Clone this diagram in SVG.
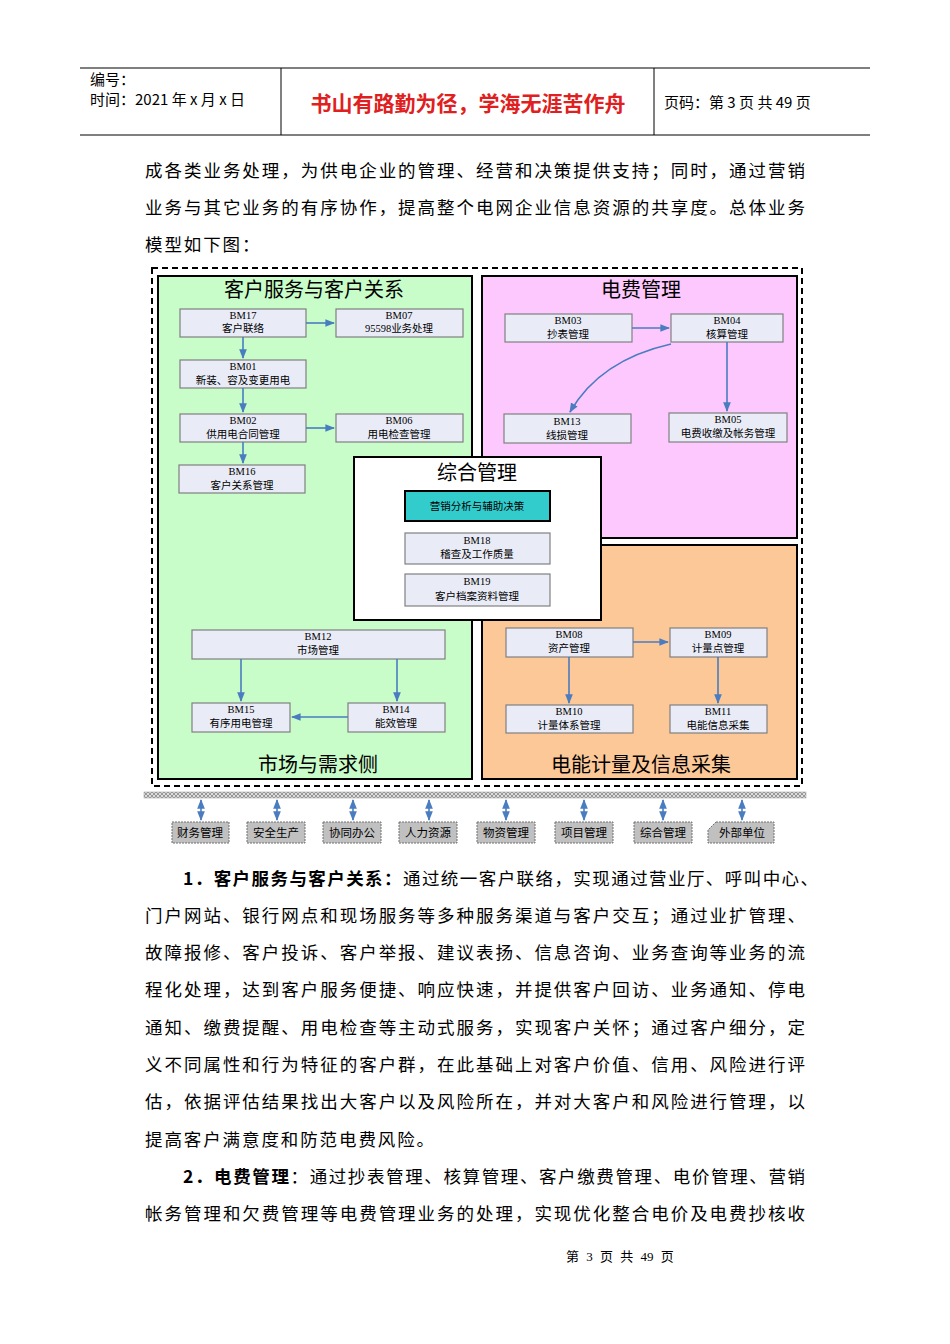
<svg xmlns="http://www.w3.org/2000/svg" width="950" height="1344" viewBox="0 0 950 1344">
<style>
text{font-family:"Liberation Serif","Noto Sans CJK SC",serif;fill:#000}
.body{font-size:17.5px}
.n rect{fill:#e9ecf7;stroke:#808080;stroke-width:1.2}
.n text{font-size:10.5px;text-anchor:middle}
.t{font-size:20px;text-anchor:middle;font-family:"Noto Sans CJK SC",sans-serif}
.c{stroke:#4a7cc0;stroke-width:1.6;fill:none;marker-end:url(#a)}
.d{stroke:#4a7cc0;stroke-width:1.6;fill:none;marker-end:url(#a);marker-start:url(#a)}
.b rect,.b path{fill:#c0c0c0;stroke:#707070;stroke-dasharray:2 1}
.b text{font-size:11.5px;text-anchor:middle}
</style>
<defs>
<marker id="a" viewBox="0 0 10 10" refX="9" refY="5" markerWidth="6" markerHeight="6" orient="auto-start-reverse"><path d="M0,1 L10,5 L0,9 z" fill="#4a7cc0"/></marker>
<pattern id="h" width="4" height="4" patternUnits="userSpaceOnUse"><rect width="4" height="4" fill="#ddd"/><path d="M0,4 L4,0 M0,0 L4,4" stroke="#888" stroke-width="0.8"/></pattern>
</defs>
<rect width="950" height="1344" fill="#fff"/>
<g id="header">
<line x1="80" y1="68" x2="870" y2="68" stroke="#000"/>
<line x1="80" y1="135" x2="870" y2="135" stroke="#000"/>
<line x1="281" y1="68" x2="281" y2="135" stroke="#000"/>
<line x1="654" y1="68" x2="654" y2="135" stroke="#000"/>
<text x="90" y="85" font-size="15" style="font-family:'Noto Sans CJK SC',sans-serif">编号：</text>
<text x="90" y="105" font-size="15" style="font-family:'Noto Sans CJK SC',sans-serif">时间：2021 年 x 月 x 日</text>
<text x="468" y="111" font-size="21" font-weight="bold" text-anchor="middle" style="fill:#e02020;font-family:'Noto Sans CJK SC',sans-serif">书山有路勤为径，学海无涯苦作舟</text>
<text x="664" y="108" font-size="15" style="font-family:'Noto Sans CJK SC',sans-serif">页码：第 3 页  共 49 页</text>
</g>
<g id="intro" class="body">
<text x="145" y="177" textLength="660" lengthAdjust="spacing">成各类业务处理，为供电企业的管理、经营和决策提供支持；同时，通过营销</text>
<text x="145" y="214" textLength="660" lengthAdjust="spacing">业务与其它业务的有序协作，提高整个电网企业信息资源的共享度。总体业务</text>
<text x="145" y="251" letter-spacing="1.9">模型如下图：</text>
</g>
<g id="regions">
<rect x="152" y="268" width="650" height="518" fill="none" stroke="#000" stroke-width="2" stroke-dasharray="6 4"/>
<path d="M158,276 H472 V457 H354 V620 H472 V779 H158 Z" fill="#c8fcc8" stroke="#000" stroke-width="2"/>
<path d="M482,276 H797 V538 H601 V457 H482 Z" fill="#fdc8fd" stroke="#000" stroke-width="2"/>
<path d="M601,545 H797 V779 H482 V620 H601 Z" fill="#fdc898" stroke="#000" stroke-width="2"/>
<path d="M354,457 H601 V620 H354 Z" fill="#fff" stroke="#000" stroke-width="2"/>
<text class="t" x="314" y="297">客户服务与客户关系</text>
<text class="t" x="641" y="297">电费管理</text>
<text class="t" x="477" y="480">综合管理</text>
<text class="t" x="318" y="772">市场与需求侧</text>
<text class="t" x="641" y="772">电能计量及信息采集</text>
</g>
<g id="BM17" class="n"><rect x="180" y="309" width="126" height="28"/><text x="243" y="319">BM17</text><text x="243" y="332">客户联络</text></g>
<g id="BM07" class="n"><rect x="336" y="309" width="127" height="28"/><text x="399" y="319">BM07</text><text x="399" y="332">95598业务处理</text></g>
<g id="BM01" class="n"><rect x="180" y="360" width="126" height="28"/><text x="243" y="370">BM01</text><text x="243" y="384">新装、容及变更用电</text></g>
<g id="BM02" class="n"><rect x="180" y="414" width="126" height="28"/><text x="243" y="424">BM02</text><text x="243" y="438">供用电合同管理</text></g>
<g id="BM06" class="n"><rect x="336" y="414" width="127" height="28"/><text x="399" y="424">BM06</text><text x="399" y="438">用电检查管理</text></g>
<g id="BM16" class="n"><rect x="179" y="465" width="126" height="28"/><text x="242" y="475">BM16</text><text x="242" y="489">客户关系管理</text></g>
<g id="BM03" class="n"><rect x="505" y="314" width="127" height="28"/><text x="568" y="324">BM03</text><text x="568" y="338">抄表管理</text></g>
<g id="BM04" class="n"><rect x="671" y="314" width="112" height="28"/><text x="727" y="324">BM04</text><text x="727" y="338">核算管理</text></g>
<g id="BM13" class="n"><rect x="504" y="414" width="127" height="29"/><text x="567" y="425">BM13</text><text x="567" y="439">线损管理</text></g>
<g id="BM05" class="n"><rect x="669" y="413" width="118" height="29"/><text x="728" y="423">BM05</text><text x="728" y="437">电费收缴及帐务管理</text></g>
<g id="YX" class="n"><rect x="405" y="491" width="145" height="30" style="fill:#33cccc;stroke:#000;stroke-width:2"/><text x="477" y="510">营销分析与辅助决策</text></g>
<g id="BM18" class="n"><rect x="405" y="533" width="145" height="31"/><text x="477" y="544">BM18</text><text x="477" y="558">稽查及工作质量</text></g>
<g id="BM19" class="n"><rect x="405" y="574" width="145" height="32"/><text x="477" y="585">BM19</text><text x="477" y="600">客户档案资料管理</text></g>
<g id="BM12" class="n"><rect x="192" y="630" width="253" height="29"/><text x="318" y="640">BM12</text><text x="318" y="654">市场管理</text></g>
<g id="BM15" class="n"><rect x="192" y="703" width="98" height="29"/><text x="241" y="713">BM15</text><text x="241" y="727">有序用电管理</text></g>
<g id="BM14" class="n"><rect x="348" y="703" width="97" height="29"/><text x="396" y="713">BM14</text><text x="396" y="727">能效管理</text></g>
<g id="BM08" class="n"><rect x="506" y="628" width="127" height="29"/><text x="569" y="638">BM08</text><text x="569" y="652">资产管理</text></g>
<g id="BM09" class="n"><rect x="670" y="628" width="97" height="29"/><text x="718" y="638">BM09</text><text x="718" y="652">计量点管理</text></g>
<g id="BM10" class="n"><rect x="506" y="705" width="127" height="28"/><text x="569" y="715">BM10</text><text x="569" y="729">计量体系管理</text></g>
<g id="BM11" class="n"><rect x="670" y="705" width="97" height="28"/><text x="718" y="715">BM11</text><text x="718" y="729">电能信息采集</text></g>
<g id="connectors">
<path class="c" d="M306,323 H334"/>
<path class="c" d="M243,337 V358"/>
<path class="c" d="M243,388 V412"/>
<path class="c" d="M306,428 H334"/>
<path class="c" d="M243,442 V463"/>
<path class="c" d="M632,328 H669"/>
<path class="c" d="M727,342 V411"/>
<path class="c" d="M671,344 Q600,360 570,412"/>
<path class="c" d="M241,659 V701"/>
<path class="c" d="M397,659 V701"/>
<path class="c" d="M348,717 H292"/>
<path class="c" d="M633,642 H668"/>
<path class="c" d="M569,657 V703"/>
<path class="c" d="M718,657 V703"/>
<path class="d" d="M201,800 V820"/>
<path class="d" d="M277,800 V820"/>
<path class="d" d="M353,800 V820"/>
<path class="d" d="M429,800 V820"/>
<path class="d" d="M506,800 V820"/>
<path class="d" d="M584,800 V820"/>
<path class="d" d="M663,800 V820"/>
<path class="d" d="M742,800 V820"/>
</g>
<g id="bus"><rect x="144" y="792" width="662" height="6" fill="url(#h)" stroke="#999" stroke-width="0.5"/></g>
<g id="B1" class="b"><rect x="172" y="822" width="57" height="21"/><text x="200" y="837">财务管理</text></g>
<g id="B2" class="b"><rect x="247" y="822" width="58" height="21"/><text x="276" y="837">安全生产</text></g>
<g id="B3" class="b"><rect x="323" y="822" width="58" height="21"/><text x="352" y="837">协同办公</text></g>
<g id="B4" class="b"><rect x="399" y="822" width="58" height="21"/><text x="428" y="837">人力资源</text></g>
<g id="B5" class="b"><rect x="477" y="822" width="58" height="21"/><text x="506" y="837">物资管理</text></g>
<g id="B6" class="b"><rect x="555" y="822" width="58" height="21"/><text x="584" y="837">项目管理</text></g>
<g id="B7" class="b"><rect x="634" y="822" width="58" height="21"/><text x="663" y="837">综合管理</text></g>
<g id="B8" class="b"><path d="M716,822 H774 V843 H708 V830 Z"/><text x="742" y="837">外部单位</text></g>
<g id="para" class="body">
<text x="183" y="885" textLength="635" lengthAdjust="spacing"><tspan font-weight="bold" style="font-family:'Noto Sans CJK SC',sans-serif">1．客户服务与客户关系：</tspan>通过统一客户联络，实现通过营业厅、呼叫中心、</text>
<text x="145" y="922" textLength="660" lengthAdjust="spacing">门户网站、银行网点和现场服务等多种服务渠道与客户交互；通过业扩管理、</text>
<text x="145" y="959" textLength="660" lengthAdjust="spacing">故障报修、客户投诉、客户举报、建议表扬、信息咨询、业务查询等业务的流</text>
<text x="145" y="996" textLength="660" lengthAdjust="spacing">程化处理，达到客户服务便捷、响应快速，并提供客户回访、业务通知、停电</text>
<text x="145" y="1034" textLength="660" lengthAdjust="spacing">通知、缴费提醒、用电检查等主动式服务，实现客户关怀；通过客户细分，定</text>
<text x="145" y="1071" textLength="660" lengthAdjust="spacing">义不同属性和行为特征的客户群，在此基础上对客户价值、信用、风险进行评</text>
<text x="145" y="1108" textLength="660" lengthAdjust="spacing">估，依据评估结果找出大客户以及风险所在，并对大客户和风险进行管理，以</text>
<text x="145" y="1146" letter-spacing="1.9">提高客户满意度和防范电费风险。</text>
<text x="183" y="1183" textLength="622" lengthAdjust="spacing"><tspan font-weight="bold" style="font-family:'Noto Sans CJK SC',sans-serif">2．电费管理</tspan>：通过抄表管理、核算管理、客户缴费管理、电价管理、营销</text>
<text x="145" y="1220" textLength="660" lengthAdjust="spacing">帐务管理和欠费管理等电费管理业务的处理，实现优化整合电价及电费抄核收</text>
</g>
<text x="620" y="1261" font-size="13" text-anchor="middle" word-spacing="4">第 3 页 共 49 页</text>
</svg>
